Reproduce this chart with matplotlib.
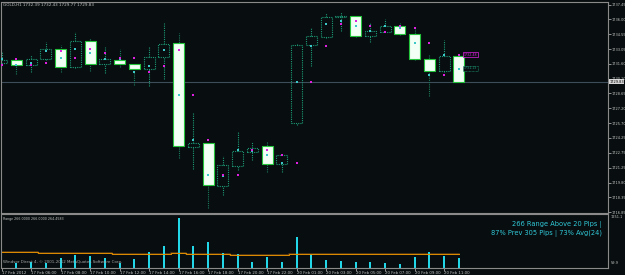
"""MT4 GOLD H1 chart with range histogram panel."""
import matplotlib
matplotlib.use("Agg")
import matplotlib.pyplot as plt
from matplotlib.patches import Rectangle
import numpy as np

title = "GOLD,H1 1732.39 1732.43 1729.77 1729.83"

# hourly bars, 17 Feb 04:00 .. 20 Feb 12:00
opens = [1731.67, 1731.97, 1731.47, 1732.07, 1733.06, 1731.27, 1733.86, 1731.57,
         1731.97, 1731.57, 1731.08, 1732.27, 1733.66, 1723.33, 1723.73, 1719.46,
         1721.45, 1722.84, 1723.43, 1721.65, 1725.72, 1733.46, 1734.25, 1736.24,
         1736.34, 1734.35, 1734.75, 1735.34, 1734.55, 1732.07, 1730.88, 1732.39]
highs = [1732.76, 1732.00, 1732.47, 1733.76, 1733.46, 1734.75, 1734.15, 1733.26,
         1733.06, 1731.60, 1733.36, 1735.64, 1734.65, 1726.71, 1723.80, 1722.44,
         1724.92, 1723.83, 1723.93, 1722.60, 1733.60, 1735.15, 1736.63, 1736.73,
         1736.40, 1735.64, 1736.04, 1735.64, 1735.15, 1732.47, 1733.95, 1732.43]
lows = [1731.47, 1730.58, 1730.78, 1732.00, 1730.78, 1731.20, 1730.88, 1730.68,
        1731.27, 1729.49, 1729.39, 1730.08, 1722.24, 1721.15, 1717.28, 1718.57,
        1721.05, 1722.04, 1720.85, 1720.85, 1725.52, 1731.37, 1734.20, 1734.85,
        1734.30, 1733.76, 1734.70, 1734.50, 1732.00, 1728.40, 1730.80, 1729.77]
closes = [1731.97, 1731.47, 1732.07, 1733.06, 1731.27, 1733.86, 1731.57, 1732.07,
          1731.57, 1731.08, 1732.27, 1733.56, 1723.43, 1723.73, 1719.56, 1721.55,
          1722.94, 1723.23, 1721.65, 1722.54, 1733.46, 1734.35, 1736.24, 1736.34,
          1734.35, 1734.85, 1735.34, 1734.55, 1732.07, 1730.88, 1732.37, 1729.83]
# cyan / magenta markers
mid_pts = [1732.07, 1731.47, 1731.67, 1732.86, 1732.17, 1733.06, 1732.66, 1732.07,
           1732.07, 1730.78, 1731.37, 1732.96, 1728.50, 1724.03, 1720.56, 1720.50,
           1723.04, 1722.94, 1722.54, 1721.75, 1729.79, 1733.36, 1735.54, 1735.84,
           1735.34, 1734.85, 1735.34, 1735.15, 1733.66, 1730.48, 1732.47, 1731.08]
prev_mid_pts = [1731.47, 1732.07, 1731.47, 1731.67, 1732.86, 1732.17, 1733.06, 1732.66,
                1732.17, 1732.17, 1730.78, 1731.37, 1732.96, 1728.50, 1724.03, 1720.56,
                1720.56, 1723.04, 1723.04, 1722.54, 1721.75, 1729.79, 1733.36, 1735.54,
                1735.84, 1735.34, 1734.75, 1735.34, 1735.15, 1733.66, 1730.48, 1732.47]

range_pips = [157, 181, 171, 277, 357, 333, 277, 157, 260, 422, 575, 1251, 575, 664,
              398, 381, 181, 316, 181, 799, 381, 236, 212, 195, 195, 171, 132, 316,
              422, 333, 277]
range_avg = [437, 437, 425, 413, 413, 413, 413, 400, 388, 388, 388, 388, 405, 374,
             374, 374, 357, 357, 357, 357, 381, 388, 381, 381, 381, 381, 381, 381,
             381, 381, 381, 381]

price_ticks = [1737.45, 1736.00, 1734.55, 1733.05, 1731.60, 1730.10, 1728.65, 1727.20,
               1725.70, 1724.25, 1722.75, 1721.25, 1719.80, 1718.35, 1716.85]
time_ticks = [0, 2, 4, 6, 8, 10, 12, 14, 16, 18, 20, 22, 24, 26, 28, 30]
time_labels = ["17 Feb 2012", "17 Feb 06:00", "17 Feb 08:00", "17 Feb 10:00",
               "17 Feb 12:00", "17 Feb 14:00", "17 Feb 16:00", "17 Feb 18:00",
               "17 Feb 20:00", "17 Feb 22:00", "20 Feb 01:00", "20 Feb 03:00",
               "20 Feb 05:00", "20 Feb 07:00", "20 Feb 09:00", "20 Feb 11:00"]
last_price = 1729.83
tag_hi, tag_lo = 1732.48, 1731.13

BG = "#080e0f"
FRAME = "#8a8a8a"
TXT = "#c4c4c4"
TEAL = "#1c9a78"
GREEN = "#24c43c"
MAG = "#e020e0"
CYAN = "#3cc8c8"

W, H = 625, 275
fig = plt.figure(figsize=(W / 100, H / 100), dpi=100, facecolor=BG)


def px_axes(x0, y0, x1, y1):
    return fig.add_axes([x0 / W, 1 - y1 / H, (x1 - x0) / W, (y1 - y0) / H])


ax = px_axes(1.5, 1.5, 607.5, 213)
ax2 = px_axes(1.5, 213.5, 607.5, 268)
for a in (ax, ax2):
    a.set_facecolor(BG)
    for s in a.spines.values():
        s.set_color(FRAME)
        s.set_linewidth(0.8)
    a.set_xlim(-0.007, 41.08)

# candles
idx = np.arange(len(opens))
o, h, l, c = map(np.array, (opens, highs, lows, closes))
bw = 0.74
for k in idx:
    bottom, top = min(o[k], c[k]), max(o[k], c[k])
    if c[k] < o[k]:
        ax.vlines(k, l[k], h[k], color="#1a7a5c", lw=0.8, linestyles=(0, (1, 1)), zorder=2)
        ax.add_patch(Rectangle((k - bw / 2, bottom), bw, top - bottom, fc="#f2fff4",
                               ec=GREEN, lw=0.8, zorder=3))
    else:
        ax.vlines(k, l[k], bottom, color=TEAL, lw=0.8, linestyles=(0, (1, 1)), zorder=2)
        ax.vlines(k, top, h[k], color=TEAL, lw=0.8, linestyles=(0, (1, 1)), zorder=2)
        ax.add_patch(Rectangle((k - bw / 2, bottom), bw, max(top - bottom, 0.05), fc="none",
                               ec=TEAL, lw=0.8, ls=(0, (1, 1)), zorder=3))
ax.plot(idx, mid_pts, "s", ms=2.0, color=CYAN, mew=0, zorder=4)
ax.plot(idx, prev_mid_pts, "s", ms=2.0, color=MAG, mew=0, zorder=4)
ax.axhline(last_price, color="#3d4d5a", lw=0.8, zorder=1)

ax.set_ylim(1716.783, 1737.776)
ax.yaxis.tick_right()
ax.set_yticks(price_ticks)
ax.set_yticklabels([f"{p:.2f}" for p in price_ticks])
ax.tick_params(axis="y", labelsize=2.5, colors=TXT, length=2, width=0.5, pad=1)
ax.set_xticks([])

# price tags
tag_x = len(opens) - 1 + 0.35
ax.text(tag_x, tag_hi, f"{tag_hi:.2f}", fontsize=2.3, color=MAG, va="center", ha="left",
        bbox=dict(boxstyle="square,pad=0.2", fc=BG, ec=MAG, lw=0.5), zorder=5)
ax.text(tag_x, tag_lo, f"{tag_lo:.2f}", fontsize=2.3, color=TEAL, va="center", ha="left",
        bbox=dict(boxstyle="square,pad=0.2", fc=BG, ec=TEAL, lw=0.5, ls=(0, (1, 1))), zorder=5)
ax.text(1.003, last_price, f"{last_price:.2f}", transform=ax.get_yaxis_transform(),
        fontsize=2.5, color="black", va="center", ha="left", zorder=6,
        bbox=dict(boxstyle="square,pad=0.15", fc="#d8d8d8", ec="none"), clip_on=False)

# range panel
ax2.bar(idx[1:], range_pips, width=0.14, color="#22d8e8", zorder=2)
ax2.plot(idx, range_avg, color="#5a3c14", lw=1.2, drawstyle="steps-mid", zorder=1)
ax2.plot(idx, range_avg, color="#e08c00", lw=0.7, drawstyle="steps-mid", zorder=3)
ax2.set_ylim(43, 1360)
ax2.set_yticks([])
ax2.set_xticks(time_ticks)
ax2.set_xticklabels(time_labels)
ax2.tick_params(axis="x", labelsize=2.8, colors=TXT, length=2, width=0.5, pad=0.5)
for lbl in ax2.get_xticklabels():
    lbl.set_horizontalalignment("left")
ax2.text(1.005, 0.93, "1251.1", transform=ax2.transAxes, fontsize=2.5, color=TXT, va="center")
ax2.text(1.005, 0.1, "59.9", transform=ax2.transAxes, fontsize=2.5, color=TXT, va="center")

fig.text(3 / W, 1 - 5 / H, title, fontsize=3.0, color=TXT, va="center")
fig.text(3 / W, 1 - 219 / H, "Range 266.0000 266.0000 264.4583", fontsize=2.3, color=TXT, va="center")
fig.text(3 / W, 1 - 262 / H, "Windsor Direct 4, \u00a9 2001-2012 MetaQuotes Software Corp.",
         fontsize=2.9, color="#a8a8a8", va="center")
fig.text(602 / W, 1 - 224 / H, "266 Range Above 20 Pips |", fontsize=4.8, color="#30c8d8",
         va="center", ha="right")
fig.text(602 / W, 1 - 233.5 / H, "87% Prev 305 Pips | 73% Avg(24)", fontsize=4.8,
         color="#30c8d8", va="center", ha="right")

fig.savefig("out.png", dpi=100, facecolor=BG)
